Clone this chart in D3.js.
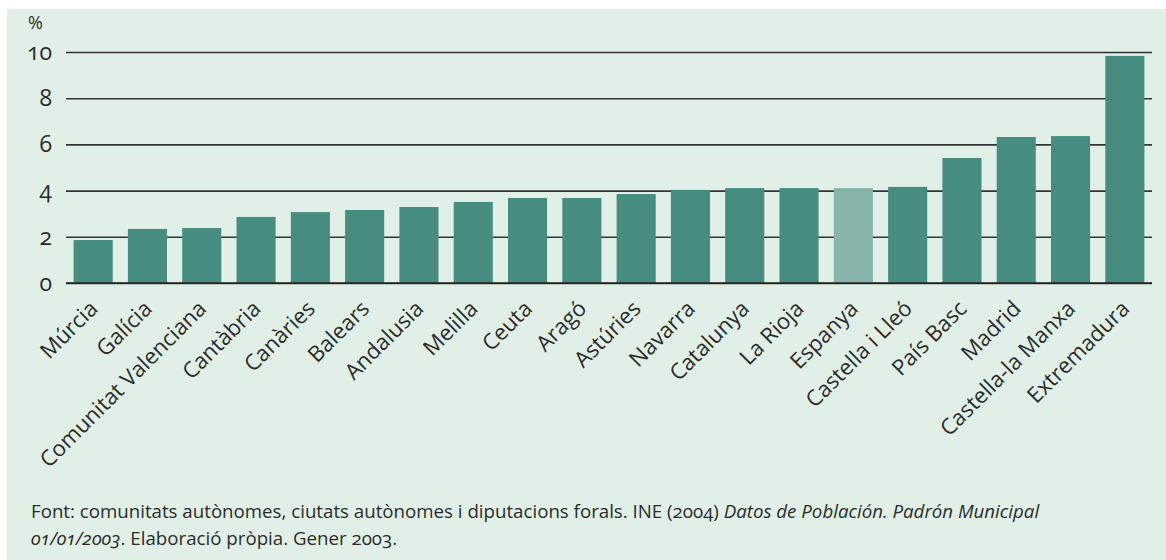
<!DOCTYPE html>
<html>
<head>
<meta charset="utf-8">
<script src="https://cdn.jsdelivr.net/npm/d3@7"></script>
<style>
  body { margin: 0; background: #fff; }
  svg text { font-family: "Open Sans", sans-serif; fill: #2b2b2b; font-variant-numeric: oldstyle-nums; }
</style>
</head>
<body>
<div class="chart"></div>
<script>
// data
var regions = ["Múrcia", "Galícia", "Comunitat Valenciana", "Cantàbria", "Canàries", "Balears",
  "Andalusia", "Melilla", "Ceuta", "Aragó", "Astúries", "Navarra", "Catalunya", "La Rioja",
  "Espanya", "Castella i Lleó", "País Basc", "Madrid", "Castella-la Manxa", "Extremadura"];
var values = [1.86, 2.34, 2.38, 2.86, 3.07, 3.16, 3.29, 3.51, 3.68, 3.68, 3.85, 4.03, 4.11, 4.11,
  4.11, 4.16, 5.41, 6.32, 6.36, 9.83];
var yTicks = [0, 2, 4, 6, 8, 10];
var highlight = "Espanya";

var svgWidth = 1166;
var svgHeight = 560;

var margin = { top: 52, right: 14, bottom: 277, left: 66 };
var width = svgWidth - margin.left - margin.right;
var height = svgHeight - margin.top - margin.bottom;

var svg = d3.select(".chart")
  .append("svg")
  .attr("width", svgWidth)
  .attr("height", svgHeight);

// background panel
svg.append("rect")
  .attr("x", 7)
  .attr("y", 9)
  .attr("width", svgWidth - 7)
  .attr("height", svgHeight - 9)
  .attr("fill", "#e1f0e6");

var chartGroup = svg.append("g")
  .attr("transform", `translate(${margin.left}, ${margin.top})`);

var x = d3.scaleBand()
  .domain(regions)
  .range([0, width])
  .paddingInner(0.28)
  .paddingOuter(0.14);

var y = d3.scaleLinear()
  .domain([0, 10])
  .range([height, 0]);

// gridlines + tick labels
var yAxis = chartGroup.append("g")
  .call(d3.axisLeft(y).tickValues(yTicks).tickSize(-width).tickPadding(14).tickFormat(d3.format("d")));
yAxis.select(".domain").remove();
yAxis.selectAll(".tick line")
  .attr("stroke", "#333")
  .attr("stroke-width", 1.6);
yAxis.selectAll(".tick text")
  .style("font-size", "23px")
  .attr("fill", "#2b2b2b");

// unit label
svg.append("text")
  .attr("x", 28)
  .attr("y", 29)
  .style("font-size", "18px")
  .text("%");

// bars
chartGroup.append("g")
  .selectAll("rect")
  .data(regions)
  .join("rect")
  .attr("x", function (d) { return x(d); })
  .attr("y", function (d, i) { return y(values[i]); })
  .attr("width", x.bandwidth())
  .attr("height", function (d, i) { return height - y(values[i]); })
  .attr("fill", function (d) { return d === highlight ? "#88b5ab" : "#468c80"; });

// redraw baseline on top of bars
chartGroup.append("line")
  .attr("x1", 0)
  .attr("x2", width)
  .attr("y1", y(0))
  .attr("y2", y(0))
  .attr("stroke", "#222")
  .attr("stroke-width", 1.6);

// category labels, rotated
chartGroup.append("g")
  .selectAll("text")
  .data(regions)
  .join("text")
  .attr("transform", function (d) {
    return `translate(${x(d) + x.bandwidth() / 2 + 6}, ${height + 27}) rotate(-45)`;
  })
  .attr("text-anchor", "end")
  .style("font-size", "22px")
  .text(function (d) { return d; });

// source note
var note = svg.append("text")
  .attr("x", 31)
  .attr("y", 518)
  .style("font-size", "18.7px");
note.append("tspan").text("Font: comunitats autònomes, ciutats autònomes i diputacions forals. INE (2004) ");
note.append("tspan").style("font-style", "italic").text("Datos de Población. Padrón Municipal");

var note2 = svg.append("text")
  .attr("x", 31)
  .attr("y", 545)
  .style("font-size", "18.7px");
note2.append("tspan").style("font-style", "italic").text("01/01/2003");
note2.append("tspan").text(". Elaboració pròpia. Gener 2003.");
</script>
</body>
</html>
